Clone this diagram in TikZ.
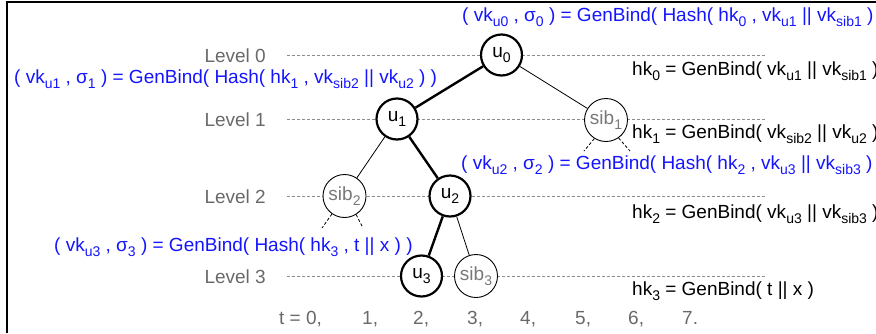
\documentclass[tikz,border=0pt]{standalone}
\usepackage{fontspec}
\setmainfont{Liberation Sans}
\definecolor{lvlgray}{RGB}{105,105,105}
\definecolor{sibgray}{RGB}{120,120,120}
\definecolor{dashgray}{RGB}{140,140,140}
\definecolor{sigblue}{RGB}{20,20,255}
% lowered, smaller subscript in text font
\newcommand\sbs[1]{\raisebox{-0.5ex}{\fontsize{14}{14}\selectfont #1}}
\begin{document}
\begin{tikzpicture}[x=1pt,y=-1pt,
  every node/.style={font=\fontsize{19}{21}\selectfont},
  unode/.style={circle,draw=black,line width=2.2pt,fill=white,minimum size=41pt,inner sep=0pt},
  snode/.style={circle,draw=black,line width=0.9pt,fill=white,minimum size=43pt,inner sep=0pt,text=sibgray},
  lvl/.style={text=lvlgray,anchor=base east,inner sep=0pt},
  levelline/.style={draw=dashgray,line width=0.8pt,dash pattern=on 3pt off 2pt},
  stubline/.style={draw=black,line width=0.8pt,dash pattern=on 3pt off 2pt},
  mainedge/.style={line width=2.4pt},
  sideedge/.style={line width=0.8pt},
  bindtxt/.style={text=sigblue,anchor=base west,inner sep=0pt},
  hktxt/.style={text=black,anchor=base west,inner sep=0pt},
  ttxt/.style={text=lvlgray,anchor=base west,inner sep=0pt}]
\useasboundingbox (0,0) rectangle (876,333);

% frame
\draw[line width=1.2pt] (7,333) -- (7,2) -- (876,2);

% level guide lines
\foreach \yy in {55,119,196,276}
  \draw[levelline] (287,\yy) -- (765,\yy);

% level labels
\node[lvl] (L0) at (266,62) {Level 0};
\node[lvl] (L1) at (266,126) {Level 1};
\node[lvl] (L2) at (266,203) {Level 2};
\node[lvl] (L3) at (266,283) {Level 3};

% tree nodes
\node[unode] (u0) at (501.5,55) {u\sbs{0}};
\node[unode] (u1) at (397,119) {u\sbs{1}};
\node[snode] (sib1) at (606,120) {sib\sbs{1}};
\node[snode] (sib2) at (344.5,196) {sib\sbs{2}};
\node[unode] (u2) at (450,196) {u\sbs{2}};
\node[unode] (u3) at (421.5,276) {u\sbs{3}};
\node[snode] (sib3) at (476,276) {sib\sbs{3}};

% edges
\draw[mainedge] (u0) -- (u1);
\draw[sideedge] (u0) -- (sib1);
\draw[sideedge] (u1) -- (sib2);
\draw[mainedge] (u1) -- (u2);
\draw[mainedge] (u2) -- (u3);
\draw[sideedge] (u2) -- (sib3);

% omitted subtrees below the siblings
\coordinate (s1l) at (584,151);
\coordinate (s1r) at (630,151);
\coordinate (s2l) at (322,228);
\coordinate (s2r) at (363,228);
\draw[stubline] (sib1.-122) -- (s1l);
\draw[stubline] (sib1.-55) -- (s1r);
\draw[stubline] (sib2.-125) -- (s2l);
\draw[stubline] (sib2.-58) -- (s2r);

% signatures
\node[bindtxt] (b0) at (462,21) {( vk\sbs{u0} , σ\sbs{0} ) = GenBind( Hash( hk\sbs{0} , vk\sbs{u1} || vk\sbs{sib1} ) )};
\node[bindtxt] (b1) at (14,83) {( vk\sbs{u1} , σ\sbs{1} ) = GenBind( Hash( hk\sbs{1} , vk\sbs{sib2} || vk\sbs{u2} ) )};
\node[bindtxt] (b2) at (461,169) {( vk\sbs{u2} , σ\sbs{2} ) = GenBind( Hash( hk\sbs{2} , vk\sbs{u3} || vk\sbs{sib3} ) )};
\node[bindtxt] (b3) at (54,251) {( vk\sbs{u3} , σ\sbs{3} ) = GenBind( Hash( hk\sbs{3} , t || x ) )};

% hash keys
\node[hktxt] (h0) at (632,75) {hk\sbs{0} = GenBind( vk\sbs{u1} || vk\sbs{sib1} )};
\node[hktxt] (h1) at (632,138) {hk\sbs{1} = GenBind( vk\sbs{sib2} || vk\sbs{u2} )};
\node[hktxt] (h2) at (632,218) {hk\sbs{2} = GenBind( vk\sbs{u3} || vk\sbs{sib3} )};
\node[hktxt] (h3) at (632,295) {hk\sbs{3} = GenBind( t || x )};

% time steps
\node[ttxt] (t0) at (279,324) {t = 0,};
\node[ttxt] (t1) at (362,324) {1,};
\node[ttxt] (t2) at (413,324) {2,};
\node[ttxt] (t3) at (467,324) {3,};
\node[ttxt] (t4) at (520,324) {4,};
\node[ttxt] (t5) at (575,324) {5,};
\node[ttxt] (t6) at (628,324) {6,};
\node[ttxt] (t7) at (682,324) {7.};
\end{tikzpicture}
\end{document}
